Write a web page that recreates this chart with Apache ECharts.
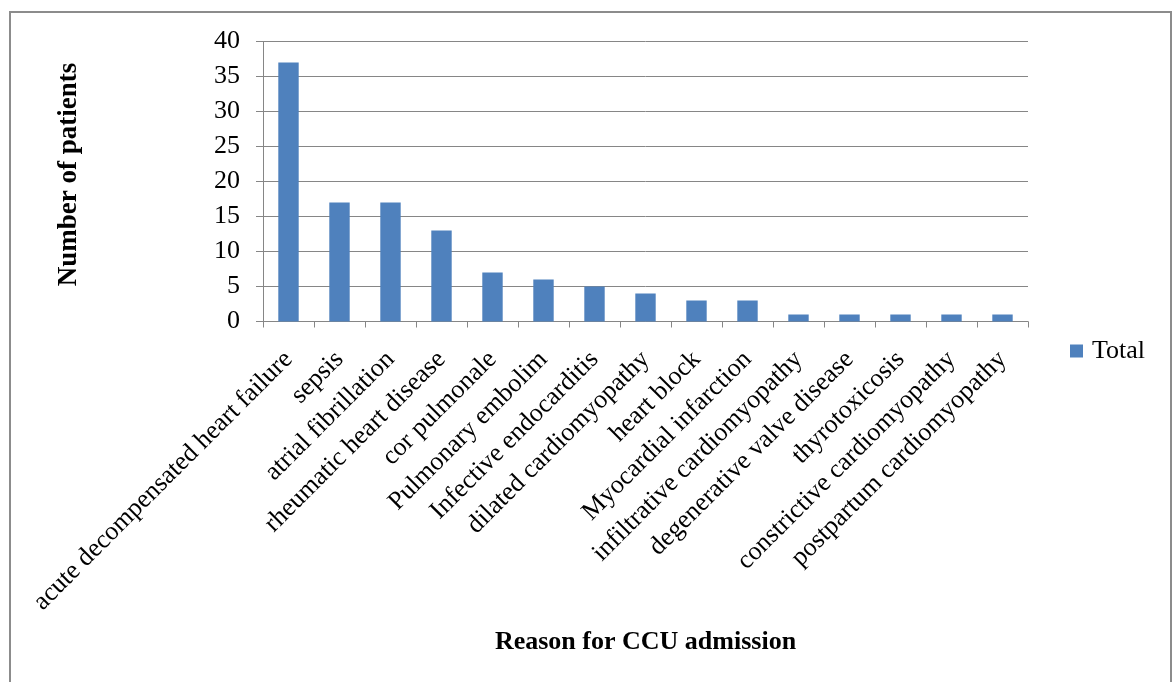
<!DOCTYPE html>
<html>
<head>
<meta charset="utf-8">
<style>
  html, body { margin: 0; padding: 0; background: #fff; }
  #chart { width: 1172px; height: 682px; }
</style>
<script src="https://cdn.jsdelivr.net/npm/echarts@6/dist/echarts.min.js"></script>
</head>
<body>
<div id="chart"></div>
<script>
// Reasons for CCU admission and patient counts
const reasons = [
  'acute decompensated heart failure',
  'sepsis',
  'atrial fibrillation',
  'rheumatic heart disease',
  'cor pulmonale',
  'Pulmonary embolim',
  'Infective endocarditis',
  'dilated cardiomyopathy',
  'heart block',
  'Myocardial infarction',
  'infiltrative cardiomyopathy',
  'degenerative valve disease',
  'thyrotoxicosis',
  'constrictive cardiomyopathy',
  'postpartum cardiomyopathy'
];
const totals = [37, 17, 17, 13, 7, 6, 5, 4, 3, 3, 1, 1, 1, 1, 1];
const yTicks = { min: 0, max: 40, interval: 5 };

const serif = '"Liberation Serif", "Times New Roman", serif';
const gridColor = '#868686';

const chart = echarts.init(document.getElementById('chart'));
chart.setOption({
  animation: false,
  textStyle: { fontFamily: serif },
  graphic: [{
    type: 'rect',
    shape: { x: 10, y: 12, width: 1161, height: 700 },
    style: { fill: 'none', stroke: '#8c8c8c', lineWidth: 2 },
    silent: true
  }],
  grid: { left: 263, top: 41.5, width: 765, height: 280, containLabel: false },
  legend: {
    data: ['Total'],
    orient: 'vertical',
    left: 1070,
    top: 338,
    padding: 0,
    itemWidth: 13,
    itemHeight: 13,
    icon: 'rect',
    textStyle: { fontFamily: serif, fontSize: 26, color: '#000', padding: [0, 0, 0, 4] }
  },
  xAxis: {
    type: 'category',
    data: reasons,
    name: 'Reason for CCU admission',
    nameLocation: 'middle',
    nameGap: 308,
    nameTextStyle: { fontFamily: serif, fontSize: 26, fontWeight: 'bold', color: '#000' },
    axisLine: { lineStyle: { color: gridColor, width: 1 } },
    axisTick: { show: true, length: 6, lineStyle: { color: gridColor } },
    axisLabel: {
      rotate: 45, interval: 0, margin: 34,
      fontFamily: serif, fontSize: 26, color: '#000'
    }
  },
  yAxis: {
    type: 'value',
    min: yTicks.min,
    max: yTicks.max,
    interval: yTicks.interval,
    name: 'Number of patients',
    nameLocation: 'middle',
    nameGap: 180,
    nameRotate: 90,
    nameTextStyle: {
      fontFamily: serif, fontSize: 27, fontWeight: 'bold', color: '#000',
      padding: [0, 0, 0, 14]
    },
    axisLine: { show: true, lineStyle: { color: gridColor, width: 1 } },
    axisTick: { show: true, length: 7, inside: false, lineStyle: { color: gridColor } },
    axisLabel: { fontFamily: serif, fontSize: 26, color: '#000', margin: 23 },
    splitLine: { show: true, lineStyle: { color: gridColor, width: 1 } }
  },
  series: [{
    name: 'Total',
    type: 'bar',
    data: totals,
    barCategoryGap: '60%',
    itemStyle: { color: '#4f81bd' }
  }]
});
</script>
</body>
</html>
